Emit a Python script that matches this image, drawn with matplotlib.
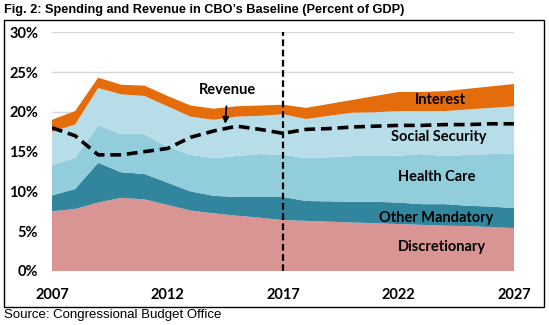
import matplotlib
matplotlib.use("Agg")
import matplotlib.pyplot as plt
from matplotlib.patches import Rectangle

# CBO baseline, percent of GDP
years = list(range(2007, 2028))
discretionary = [7.5, 7.8, 8.6, 9.2, 9.0, 8.3, 7.6, 7.25, 6.95, 6.7, 6.4,
                 6.3, 6.2, 6.1, 6.0, 5.9, 5.8, 5.7, 5.65, 5.5, 5.4]
other_mandatory = [2.0, 2.5, 5.0, 3.2, 3.2, 2.8, 2.4, 2.2, 2.35, 2.6, 2.9,
                   2.5, 2.55, 2.6, 2.7, 2.7, 2.6, 2.7, 2.55, 2.6, 2.5]
health_care = [3.8, 3.9, 4.7, 4.8, 5.0, 4.5, 4.6, 4.75, 5.15, 5.4, 5.3,
               5.4, 5.55, 5.75, 5.75, 5.9, 6.3, 6.05, 6.4, 6.6, 6.85]
social_security = [4.2, 4.2, 4.7, 5.0, 4.8, 5.1, 4.8, 4.8, 4.95, 4.8, 5.1,
                   4.9, 5.2, 5.45, 5.5, 5.6, 5.4, 5.65, 5.7, 5.8, 5.95]
interest = [1.5, 1.7, 1.3, 1.2, 1.3, 1.3, 1.4, 1.4, 1.3, 1.3, 1.2,
            1.4, 1.5, 1.6, 2.05, 2.4, 2.4, 2.5, 2.6, 2.7, 2.8]
revenue = [18.0, 17.0, 14.6, 14.6, 15.0, 15.4, 16.8, 17.6, 18.2, 17.8, 17.3,
           17.8, 17.9, 18.1, 18.2, 18.3, 18.3, 18.4, 18.4, 18.5, 18.5]
x_ticks = [2007, 2012, 2017, 2022, 2027]
y_ticks = [0, 5, 10, 15, 20, 25, 30]

colors = ["#D99594", "#31859C", "#92CDDC", "#B7DEE8", "#E46C0A"]
label_font = "Lato"

fig = plt.figure(figsize=(5.49, 3.25), dpi=100)
ax = fig.add_axes([52 / 549, 54 / 325, 462 / 549, 238.7 / 325])

ax.stackplot(years, discretionary, other_mandatory, health_care,
             social_security, interest, colors=colors, lw=0, zorder=2)
ax.plot(years, revenue, color="black", lw=2.6, dashes=(3, 1.6), zorder=4)
ax.axvline(2017, color="black", lw=1.6, dashes=(3, 1.6), zorder=5)

ax.set_xlim(2007, 2027)
ax.set_ylim(0, 30)
ax.set_xticks(x_ticks)
ax.set_yticks(y_ticks)
ax.set_yticklabels([f"{v}%" for v in y_ticks])
ax.grid(axis="y", color="#D9D9D9", lw=1, zorder=0)
ax.set_axisbelow(True)
for s in ax.spines.values():
    s.set_visible(False)
ax.tick_params(length=0)
ax.tick_params(axis="y", pad=10)
ax.tick_params(axis="x", pad=12)
for t in ax.get_xticklabels() + ax.get_yticklabels():
    t.set_fontfamily(label_font)
    t.set_fontweight("bold")
    t.set_fontsize(10.5)

# series labels
txt = dict(fontfamily=label_font, fontweight="bold", fontsize=10.5,
           ha="center", va="center", zorder=6)
ax.text(2023.8, 21.5, "Interest", **txt)
ax.text(2023.75, 16.8, "Social Security", **txt)
ax.text(2023.65, 11.8, "Health Care", **txt)
ax.text(2023.65, 6.7, "Other Mandatory", **txt)
ax.text(2023.9, 3.05, "Discretionary", **txt)
ax.annotate("Revenue", xy=(2014.5, 18.5), xytext=(2014.6, 22.8),
            arrowprops=dict(arrowstyle="-|>", color="black", lw=1.3,
                            shrinkA=5, shrinkB=0, mutation_scale=9),
            **txt)

# frame, title and source
fig.patches.append(Rectangle((4 / 549, 18 / 325), 540 / 549, 287 / 325,
                             transform=fig.transFigure, fill=False,
                             edgecolor="black", lw=1))
fig.text(4 / 549, 1 - 10 / 325, "Fig. 2: Spending and Revenue in CBO\u2019s Baseline (Percent of GDP)",
         fontfamily="Liberation Sans", fontweight="bold", fontsize=9.2,
         ha="left", va="center")
fig.text(4 / 549, 1 - 315 / 325, "Source: Congressional Budget Office",
         fontfamily="Liberation Sans", fontsize=9.5, ha="left", va="center")

fig.savefig("out.png", dpi=100)
